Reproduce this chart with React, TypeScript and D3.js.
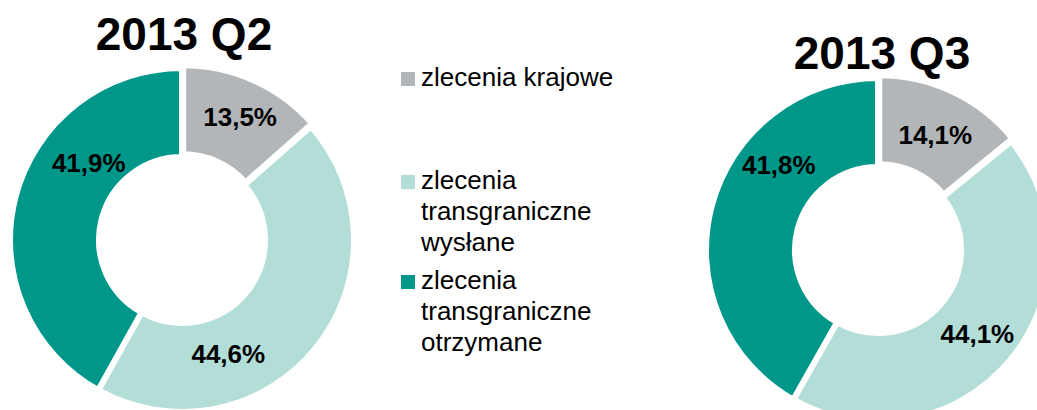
import React from 'react';
import * as d3 from 'd3';

// data
const categories = ['zlecenia krajowe', 'zlecenia transgraniczne wysłane', 'zlecenia transgraniczne otrzymane'];
const legendLines = [['zlecenia krajowe'], ['zlecenia', 'transgraniczne', 'wysłane'], ['zlecenia', 'transgraniczne', 'otrzymane']];
const periods = ['2013 Q2', '2013 Q3'];
const valuesQ2 = [13.5, 44.6, 41.9];
const valuesQ3 = [14.1, 44.1, 41.8];

const colors = ['#b2b6b9', '#b3ddd7', '#00978b'];

// layout (label nudges, degrees / px)
const charts = [
  { title: periods[0], values: valuesQ2, cx: 182, cy: 240, titleX: 184, titleY: 50, shift: [1, 29, 25], labelR: [136, 123, 121] },
  { title: periods[1], values: valuesQ3, cx: 878, cy: 250, titleX: 882, titleY: 69, shift: [1, 0, 26], labelR: [129, 130, 131] },
];

const W = 1037;
const H = 410;
const outerR = 172;
const innerR = 83;
const FONT = '"Liberation Sans", Arial, Helvetica, sans-serif';

const pie = d3.pie<number>().sort(null).value(d => d).startAngle(0).endAngle(2 * Math.PI);
const arc = d3.arc<d3.PieArcDatum<number>>().innerRadius(innerR).outerRadius(outerR);

const fmt = (v: number) => v.toFixed(1).replace('.', ',') + '%';

const Donut: React.FC<{ c: typeof charts[number] }> = ({ c }) => {
  const arcs = pie(c.values);
  return (
    <g>
      <text x={c.titleX} y={c.titleY} textAnchor="middle" fontFamily={FONT} fontWeight="bold" fontSize={46} fill="#000">
        {c.title}
      </text>
      <g transform={`translate(${c.cx},${c.cy})`}>
        {arcs.map((a, i) => {
          const mid = (a.startAngle + a.endAngle) / 2;
          // first slice is pulled out a little
          const off = i === 0 ? 3 : 0;
          return (
            <path
              key={i}
              d={arc(a) || ''}
              transform={`translate(${off * Math.sin(mid)},${-off * Math.cos(mid)})`}
              fill={colors[i]}
              stroke="#fff"
              strokeWidth={6}
              strokeLinejoin="miter"
            />
          );
        })}
        {arcs.map((a, i) => {
          const ang = (a.startAngle + a.endAngle) / 2 + (c.shift[i] * Math.PI) / 180;
          const r = c.labelR[i];
          return (
            <text
              key={'l' + i}
              x={r * Math.sin(ang)}
              y={-r * Math.cos(ang)}
              dy="0.36em"
              textAnchor="middle"
              fontFamily={FONT}
              fontWeight="bold"
              fontSize={26}
              fill="#000"
            >
              {fmt(a.data)}
            </text>
          );
        })}
      </g>
    </g>
  );
};

const legendBase = [86, 189, 289];
const lineH = 31;

export default function App() {
  return (
    <svg width={W} height={H} style={{ position: 'absolute', left: 0, top: 0, background: '#fff' }}>
      <rect width={W} height={H} fill="#fff" />
      {charts.map((c, i) => (
        <Donut key={i} c={c} />
      ))}
      <g>
        {categories.map((cat, i) => (
          <g key={cat}>
            <rect x={401} y={legendBase[i] - 14} width={14} height={14} fill={colors[i]} />
            {legendLines[i].map((ln, j) => (
              <text key={j} x={421} y={legendBase[i] + j * lineH} fontFamily={FONT} fontSize={26} fill="#000">
                {ln}
              </text>
            ))}
          </g>
        ))}
      </g>
    </svg>
  );
}
